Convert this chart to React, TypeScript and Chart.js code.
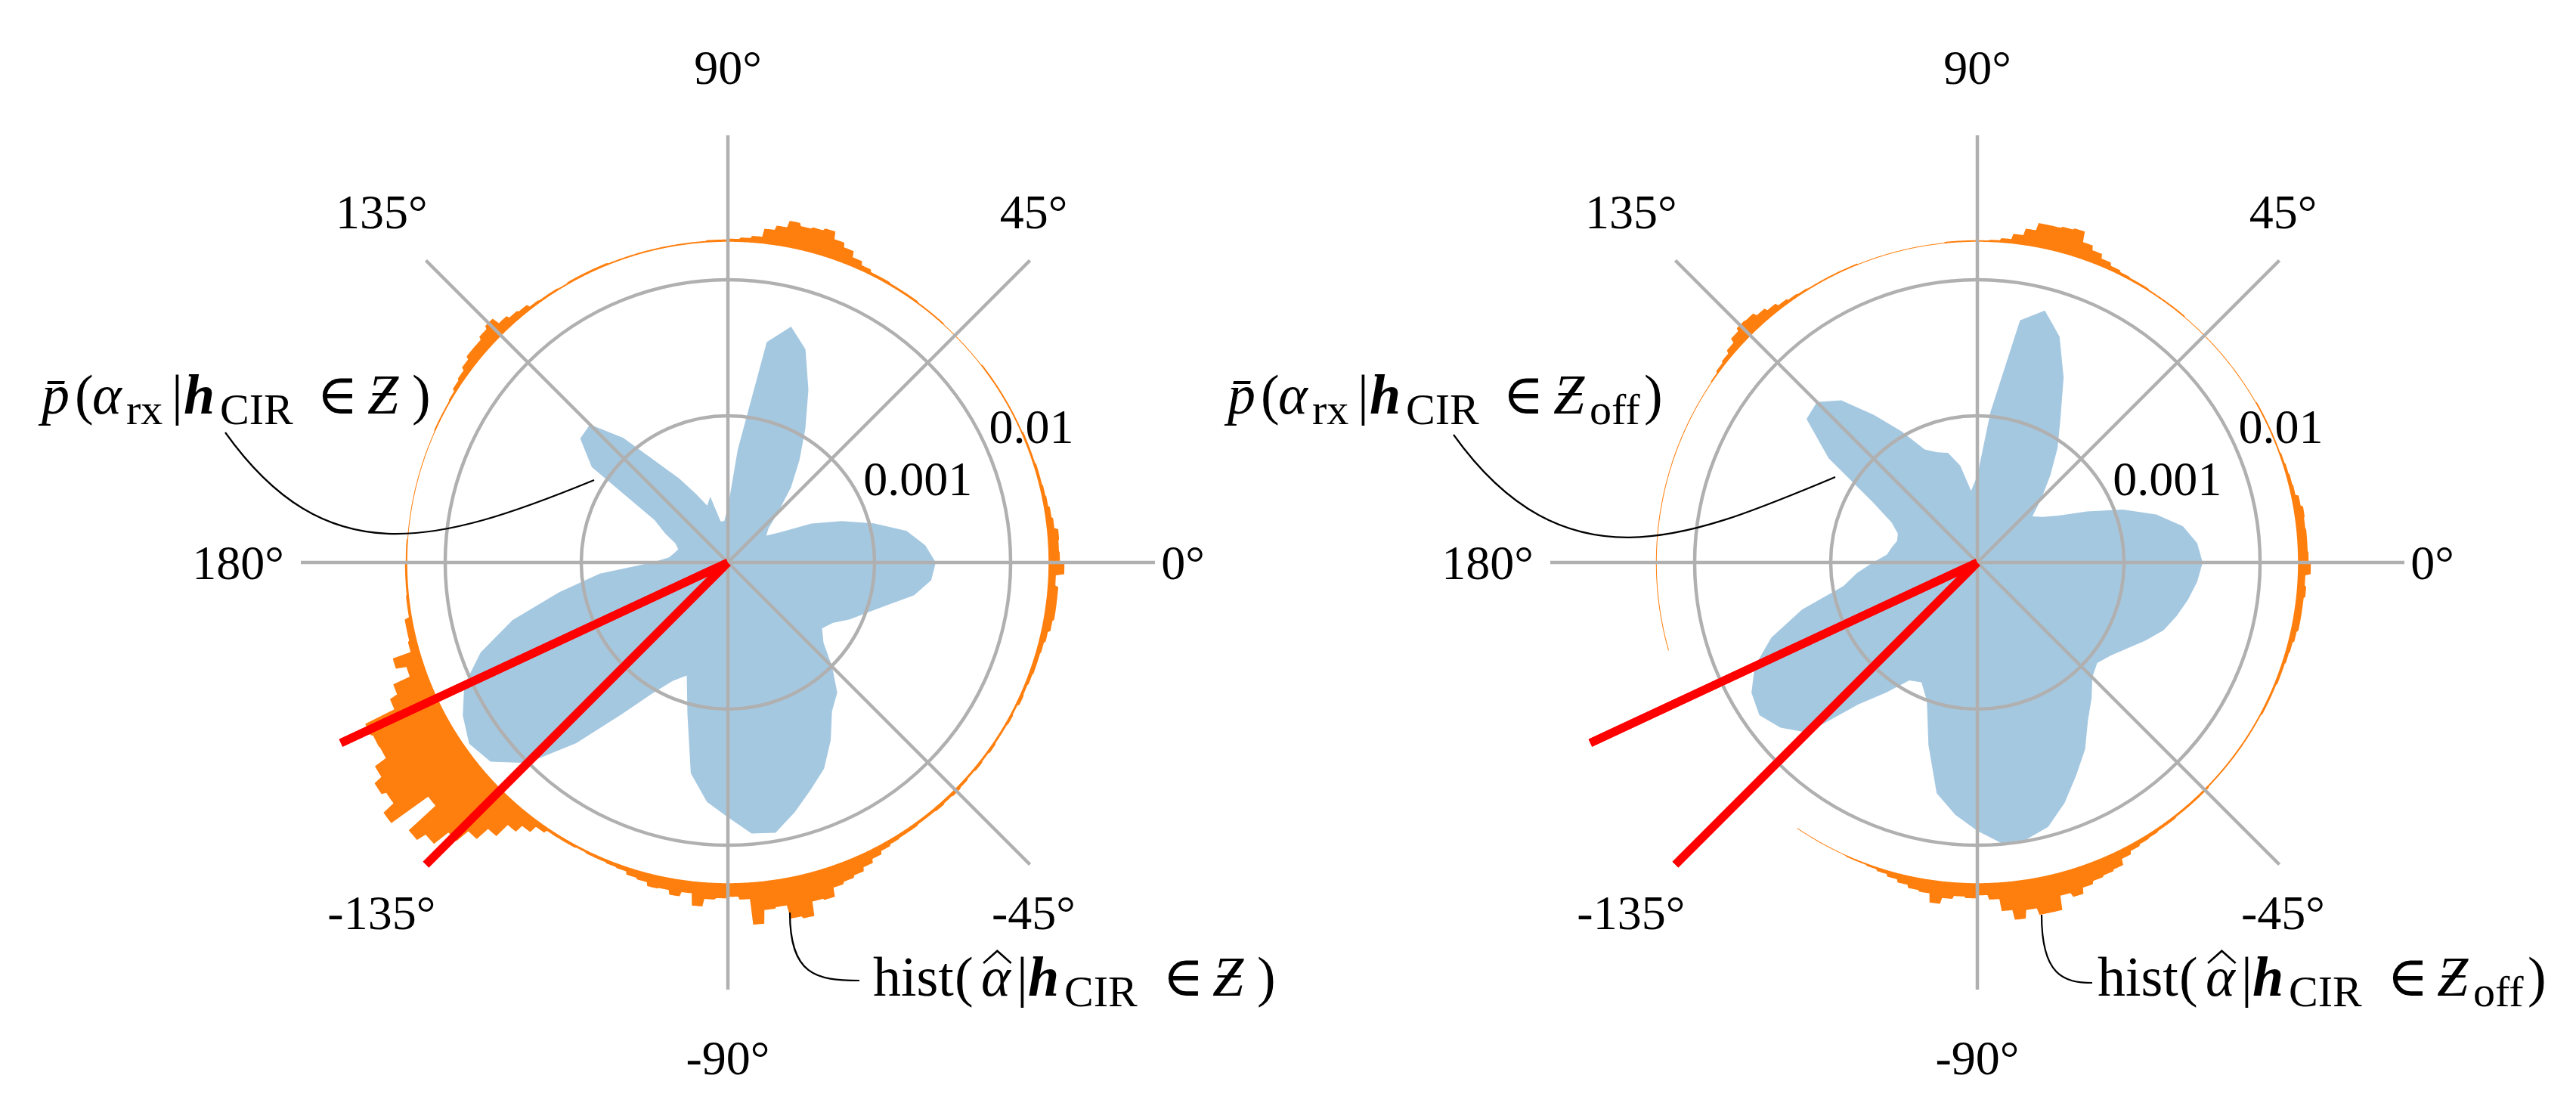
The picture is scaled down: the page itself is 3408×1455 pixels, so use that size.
import React, { useEffect, useRef } from 'react';
import { Chart, registerables } from 'chart.js';

Chart.register(...registerables);

const PAGE_W = 3408;
const PAGE_H = 1455;

// ---------------- data ----------------
// angular sampling of the mean density p̄(α_rx | h_CIR ∈ Z), degrees (math convention)
const BLUE_ANGLES = [
  0, 5, 10, 15, 20, 25, 30, 35, 40, 45, 50, 55, 60, 65, 70, 75, 80, 85, 90, 95,
  100, 105, 110, 115, 120, 125, 130, 135, 140, 145, 150, 155, 160, 165, 170, 175,
  180, 185, 190, 195, 200, 205, 210, 215, 220, 225, 230, 235, 240, 245, 250, 255,
  260, 265, 270, 275, 280, 285, 290, 295, 300, 305, 310, 315, 320, 325, 330, 335,
  340, 345, 350, 355,
];

// log10 of the density (left panel: Z)
const leftLog10Density = [
  -2.550, -2.622, -2.744, -2.967, -3.189, -3.400, -3.633, -3.733, -3.689, -3.556,
  -3.356, -3.161, -2.939, -2.678, -2.411, -2.283, -2.433, -3.244, -3.672, -3.772,
  -3.772, -3.578, -3.633, -3.522, -3.367, -3.189, -2.883, -2.644, -2.661, -2.856,
  -3.456, -3.567, -3.667, -3.700, -3.678, -3.644, -3.522, -3.133, -2.817, -2.439,
  -2.144, -1.939, -1.828, -1.756, -1.800, -1.994, -2.344, -2.717, -2.967, -3.117,
  -3.194, -2.928, -2.506, -2.311, -2.206, -2.078, -2.061, -2.178, -2.300, -2.406,
  -2.567, -2.744, -2.828, -2.994, -3.161, -3.233, -3.189, -3.089, -2.994, -2.867,
  -2.689, -2.578,
];

// log10 of the density (right panel: Z_off)
const rightLog10Density = [
  -2.422, -2.456, -2.544, -2.717, -2.939, -3.189, -3.389, -3.494, -3.550, -3.411,
  -3.244, -3.050, -2.856, -2.578, -2.311, -2.161, -2.272, -2.967, -3.439, -3.550,
  -3.356, -3.244, -3.217, -3.161, -2.967, -2.756, -2.522, -2.411, -2.439, -2.744,
  -3.189, -3.383, -3.456, -3.467, -3.439, -3.411, -3.311, -3.189, -3.078, -2.744,
  -2.467, -2.272, -2.161, -2.122, -2.189, -2.311, -2.717, -2.911, -3.078, -3.106,
  -2.994, -2.689, -2.356, -2.217, -2.106, -2.006, -2.011, -2.067, -2.200, -2.356,
  -2.494, -2.661, -2.772, -2.883, -2.928, -2.883, -2.811, -2.717, -2.622, -2.561,
  -2.506, -2.456,
];

// histogram of estimated angles, bins of 2°, first bin starts at -180°
const HIST_BIN_WIDTH = 2;
const HIST_FIRST_BIN = -180;
const leftHistCounts = [
  3, 3, 3, 4, 4, 10, 10, 12, 37, 23,
  47, 58, 101, 98, 97, 115, 127, 121, 139, 79,
  127, 114, 90, 70, 50, 29, 18, 8, 4, 4,
  4, 3, 4, 4, 5, 6, 10, 12, 17, 16,
  22, 16, 32, 22, 20, 18, 22, 56, 38, 36,
  54, 57, 38, 40, 28, 25, 22, 17, 12, 8,
  6, 5, 5, 4, 4, 5, 4, 5, 4, 3,
  4, 3, 4, 3, 3, 4, 3, 5, 4, 5,
  6, 6, 7, 9, 12, 14, 14, 14, 10, 21,
  15, 14, 15, 10, 8, 6, 5, 4, 4, 3,
  3, 3, 2, 2, 2, 2, 2, 2, 2, 1,
  1, 1, 1, 1, 2, 2, 2, 3, 3, 3,
  4, 4, 7, 12, 20, 26, 36, 33, 31, 35,
  26, 20, 9, 6, 4, 3, 3, 2, 2, 2,
  2, 2, 2, 2, 2, 2, 3, 3, 3, 3,
  2, 3, 3, 4, 8, 10, 14, 24, 20, 16,
  16, 12, 8, 6, 3, 2, 2, 2, 1, 1,
  1, 1, 1, 1, 1, 1, 1, 1, 2, 2,
];
const rightHistCounts = [
  1, 1, 1, 1, 1, 1, 1, 1, 0, 0,
  0, 0, 0, 0, 0, 0, 0, 0, 0, 0,
  0, 0, 0, 0, 0, 0, 0, 0, 1, 1,
  1, 1, 1, 2, 2, 3, 5, 8, 12, 16,
  18, 30, 22, 18, 20, 16, 22, 38, 51, 40,
  49, 49, 30, 36, 28, 24, 22, 20, 12, 8,
  6, 5, 4, 4, 3, 3, 3, 3, 2, 2,
  2, 2, 2, 2, 2, 2, 3, 3, 3, 4,
  4, 5, 6, 8, 10, 10, 10, 12, 10, 17,
  14, 13, 13, 12, 13, 10, 6, 5, 4, 3,
  2, 2, 2, 2, 2, 1, 1, 1, 1, 1,
  1, 1, 1, 1, 1, 2, 2, 2, 2, 3,
  3, 4, 6, 10, 16, 22, 36, 34, 32, 32,
  22, 13, 6, 3, 2, 2, 2, 2, 1, 1,
  1, 1, 1, 1, 1, 1, 2, 2, 2, 2,
  2, 3, 4, 6, 10, 14, 19, 20, 16, 10,
  6, 4, 2, 1, 1, 1, 1, 1, 1, 1,
  1, 1, 1, 1, 1, 1, 1, 1, 1, 1,
];

const RED_ANGLES = [-155, -135];

const ANGLE_TICKS = [0, 45, 90, 135, 180, -135, -90, -45];
const ANGLE_TICK_LABELS = ['0°', '45°', '90°', '135°', '180°', '-135°', '-90°', '-45°'];
const RADIAL_TICKS = [0.001, 0.01];
const RADIAL_TICK_LABELS = ['0.001', '0.01'];
const RADIAL_LABEL_ANGLE = 22.5;

// radial (log10) axis range and histogram mapping
const LOG_MIN = -4.078;
const LOG_MAX = -0.939;
const HIST_BASELINE = 0.019;
const HIST_DECADES_PER_COUNT = 1 / 180;

// ---------------- styles ----------------
const BLUE = '#a5c8e1';
const ORANGE = '#ff7f0e';
const RED = '#ff0000';
const GRID = '#b0b0b0';
const GRID_W = 4.5;
const FONT_FAMILY = '"Liberation Serif", "Times New Roman", "DejaVu Serif", serif';
const TICK_SIZE = 64;
const MAIN = 74;
const SUB = 58;
const SUB_DY = 14;

// ---------------- helpers ----------------
const STEP = 0.25;
const N = Math.round(360 / STEP);
const LABELS = Array.from({ length: N }, (_, i) => i);

const idxForAngle = (deg: number) => Math.round(((((-deg) % 360) + 360) % 360) / STEP) % N;
const angleForIdx = (i: number) => {
  let a = (((-i * STEP) % 360) + 360) % 360;
  if (a >= 180) a -= 360;
  return a;
};

function blueSeries(vals: number[]) {
  const d: (number | null)[] = new Array(N).fill(null);
  BLUE_ANGLES.forEach((a, k) => {
    d[idxForAngle(a)] = vals[k];
  });
  return d;
}

function histSeries(counts: number[]) {
  const base = Math.log10(HIST_BASELINE);
  return LABELS.map((i) => {
    const a = angleForIdx(i);
    const bin = Math.min(counts.length - 1, Math.floor((a - HIST_FIRST_BIN) / HIST_BIN_WIDTH));
    return base + counts[bin] * HIST_DECADES_PER_COUNT;
  });
}

function baselineSeries() {
  const base = Math.log10(HIST_BASELINE);
  return LABELS.map(() => base);
}

function redSeries() {
  const d: (number | null)[] = new Array(N).fill(null);
  RED_ANGLES.forEach((a) => {
    const i = idxForAngle(a);
    d[(i - 1 + N) % N] = LOG_MIN;
    d[i] = LOG_MAX;
    d[(i + 1) % N] = LOG_MIN;
  });
  return d;
}

const font = (size: number, italic = false, bold = false) =>
  `${italic ? 'italic ' : ''}${bold ? 'bold ' : ''}${size}px ${FONT_FAMILY}`;

type Run = { t: string; x: number; it?: boolean; bf?: boolean; sub?: boolean; hat?: boolean };

function drawRuns(ctx: CanvasRenderingContext2D, runs: Run[], ox: number, oy: number) {
  ctx.textAlign = 'left';
  ctx.textBaseline = 'alphabetic';
  for (const r of runs) {
    ctx.font = font(r.sub ? SUB : MAIN, !!r.it, !!r.bf);
    const x = ox + r.x;
    const y = oy + (r.sub ? SUB_DY : 0);
    ctx.fillText(r.t, x, y);
    if (r.hat) {
      const w = ctx.measureText(r.t).width;
      ctx.beginPath();
      ctx.moveTo(x + 0.08 * w, y - 0.58 * MAIN);
      ctx.lineTo(x + 0.55 * w, y - 0.8 * MAIN);
      ctx.lineTo(x + 1.02 * w, y - 0.58 * MAIN);
      ctx.strokeStyle = '#000';
      ctx.lineWidth = 2.6;
      ctx.lineJoin = 'miter';
      ctx.stroke();
    }
  }
}

function pRuns(off: boolean): Run[] {
  const runs: Run[] = [
    { t: 'p\u0304', x: 0, it: true },
    { t: '(', x: 44 },
    { t: 'α', x: 67, it: true },
    { t: 'rx', x: 112, sub: true },
    { t: '|', x: 172 },
    { t: 'h', x: 188, it: true, bf: true },
    { t: 'CIR', x: 236, sub: true },
    { t: '∈', x: 364 },
    { t: 'Ƶ', x: 431, it: true },
  ];
  if (off) {
    runs.push({ t: 'off', x: 479, sub: true });
    runs.push({ t: ')', x: 551 });
  } else {
    runs.push({ t: ')', x: 490 });
  }
  return runs;
}

function hRuns(off: boolean): Run[] {
  const runs: Run[] = [
    { t: 'hist', x: 0 },
    { t: '(', x: 108 },
    { t: 'α', x: 143, it: true, hat: true },
    { t: '|', x: 190 },
    { t: 'h', x: 205, it: true, bf: true },
    { t: 'CIR', x: 253, sub: true },
    { t: '∈', x: 383 },
    { t: 'Ƶ', x: 449, it: true },
  ];
  if (off) {
    runs.push({ t: 'off', x: 497, sub: true });
    runs.push({ t: ')', x: 569 });
  } else {
    runs.push({ t: ')', x: 508 });
  }
  return runs;
}

type Pt = [number, number];
type PanelCfg = {
  padding: { left: number; right: number; top: number; bottom: number };
  blue: number[];
  hist: number[];
  off: boolean;
  pText: Pt;
  pLead: Pt[];
  hText: Pt;
  hLead: Pt[];
};

const LEFT: PanelCfg = {
  padding: { left: 398, right: 1880, top: 179, bottom: 146 },
  blue: leftLog10Density,
  hist: leftHistCounts,
  off: false,
  pText: [55, 547],
  pLead: [[298, 572], [431, 758], [574, 722], [786, 635]],
  hText: [1155, 1317],
  hLead: [[1045, 1207], [1045, 1290], [1080, 1297], [1137, 1297]],
};

const RIGHT: PanelCfg = {
  padding: { left: 2051, right: 227, top: 179, bottom: 146 },
  blue: rightLog10Density,
  hist: rightHistCounts,
  off: true,
  pText: [1624, 547],
  pLead: [[1923, 575], [2074, 786], [2244, 707], [2428, 631]],
  hText: [2775, 1317],
  hLead: [[2701, 1210], [2701, 1290], [2730, 1300], [2768, 1300]],
};

function drawLead(ctx: CanvasRenderingContext2D, p: Pt[]) {
  ctx.beginPath();
  ctx.moveTo(p[0][0], p[0][1]);
  ctx.bezierCurveTo(p[1][0], p[1][1], p[2][0], p[2][1], p[3][0], p[3][1]);
  ctx.strokeStyle = '#000';
  ctx.lineWidth = 2.2;
  ctx.stroke();
}

function textPlugin(cfg: PanelCfg) {
  return {
    id: 'panelText',
    afterDraw(chart: any) {
      const ctx: CanvasRenderingContext2D = chart.ctx;
      const scale = chart.scales.r;
      // red direction lines drawn again above the grid
      const redMeta = chart.getDatasetMeta(0);
      if (redMeta && redMeta.dataset) redMeta.dataset.draw(ctx, chart.chartArea);

      ctx.save();
      ctx.fillStyle = '#000';
      // radial tick labels (0.001, 0.01)
      ctx.font = font(TICK_SIZE);
      ctx.textAlign = 'left';
      ctx.textBaseline = 'bottom';
      RADIAL_TICKS.forEach((v, k) => {
        const p = scale.getPointPosition(
          idxForAngle(RADIAL_LABEL_ANGLE),
          scale.getDistanceFromCenterForValue(Math.log10(v))
        );
        ctx.fillText(RADIAL_TICK_LABELS[k], p.x, p.y);
      });
      // angular tick labels
      ctx.textAlign = 'center';
      ctx.textBaseline = 'alphabetic';
      ANGLE_TICKS.forEach((a, k) => {
        const u = scale.getPointPosition(idxForAngle(a), 1000);
        const c = (u.x - scale.xCenter) / 1000;
        const s = (scale.yCenter - u.y) / 1000;
        const rx = c > 0.9 ? 602 : c > 0.1 ? 572 : c < -0.1 ? 648 : 0;
        const x = scale.xCenter + c * rx;
        const y = scale.yCenter - s * 655 + 0.338 * TICK_SIZE;
        ctx.fillText(ANGLE_TICK_LABELS[k], x, y);
      });
      // annotations
      drawRuns(ctx, pRuns(cfg.off), cfg.pText[0], cfg.pText[1]);
      drawRuns(ctx, hRuns(cfg.off), cfg.hText[0], cfg.hText[1]);
      drawLead(ctx, cfg.pLead);
      drawLead(ctx, cfg.hLead);
      ctx.restore();
    },
  };
}

function makeChart(canvas: HTMLCanvasElement, cfg: PanelCfg) {
  return new Chart(canvas as any, {
    type: 'radar',
    data: {
      labels: LABELS,
      datasets: [
        {
          label: 'direction',
          data: redSeries(),
          borderColor: RED,
          borderWidth: 11,
          fill: false,
          spanGaps: false,
          borderJoinStyle: 'bevel',
          borderCapStyle: 'butt',
          pointRadius: 0,
        },
        {
          label: 'hist',
          data: histSeries(cfg.hist),
          borderWidth: 0,
          backgroundColor: ORANGE,
          fill: 2,
          pointRadius: 0,
        },
        {
          label: 'hist baseline',
          data: baselineSeries(),
          borderWidth: 0,
          fill: false,
          pointRadius: 0,
        },
        {
          label: 'density',
          data: blueSeries(cfg.blue),
          borderWidth: 0,
          backgroundColor: BLUE,
          fill: 'start',
          spanGaps: true,
          pointRadius: 0,
        },
      ] as any,
    },
    options: {
      animation: false,
      responsive: false,
      events: [],
      layout: { padding: cfg.padding },
      plugins: {
        legend: { display: false },
        tooltip: { enabled: false },
        title: { display: false },
      },
      elements: { point: { radius: 0 }, line: { tension: 0 } },
      scales: {
        r: {
          type: 'radialLinear',
          min: LOG_MIN,
          max: LOG_MAX,
          beginAtZero: false,
          startAngle: 90,
          grid: { circular: true, color: GRID, lineWidth: GRID_W, z: 1 },
          angleLines: {
            display: true,
            color: GRID,
            lineWidth: (ctx: any) => (ctx.index % Math.round(45 / STEP) === 0 ? GRID_W : 0),
          },
          pointLabels: { display: false },
          ticks: { display: false },
          afterBuildTicks: (scale: any) => {
            scale.ticks = RADIAL_TICKS.map((v) => ({ value: Math.log10(v) }));
          },
        } as any,
      },
    } as any,
    plugins: [textPlugin(cfg)],
  });
}

export default function App() {
  const leftRef = useRef<HTMLCanvasElement>(null);
  const rightRef = useRef<HTMLCanvasElement>(null);

  useEffect(() => {
    let alive = true;
    const c1 = makeChart(leftRef.current as HTMLCanvasElement, LEFT);
    const c2 = makeChart(rightRef.current as HTMLCanvasElement, RIGHT);
    const fs: any = (document as any).fonts;
    if (fs && fs.load) {
      const specs = [
        font(TICK_SIZE),
        font(MAIN),
        font(MAIN, true),
        font(MAIN, true, true),
        font(SUB),
      ];
      Promise.all(specs.map((s) => fs.load(s, 'hist0.19°αpZ∈')))
        .then(() => (fs.ready ? fs.ready : null))
        .then(() => {
          if (alive) {
            c1.draw();
            c2.draw();
          }
        })
        .catch(() => {});
    }
    return () => {
      alive = false;
      c1.destroy();
      c2.destroy();
    };
  }, []);

  const cstyle: React.CSSProperties = {
    position: 'absolute',
    left: 0,
    top: 0,
    width: PAGE_W,
    height: PAGE_H,
  };

  return (
    <div
      style={{
        position: 'absolute',
        left: 0,
        top: 0,
        width: PAGE_W,
        height: PAGE_H,
        background: '#ffffff',
        overflow: 'hidden',
        fontFamily: FONT_FAMILY,
      }}
    >
      <span
        style={{ position: 'absolute', left: 0, top: 0, opacity: 0, fontFamily: FONT_FAMILY }}
        aria-hidden="true"
      >
        <span>0.001</span>
        <i>α</i>
        <b>
          <i>h</i>
        </b>
      </span>
      <canvas ref={leftRef} width={PAGE_W} height={PAGE_H} style={cstyle} />
      <canvas ref={rightRef} width={PAGE_W} height={PAGE_H} style={cstyle} />
    </div>
  );
}
